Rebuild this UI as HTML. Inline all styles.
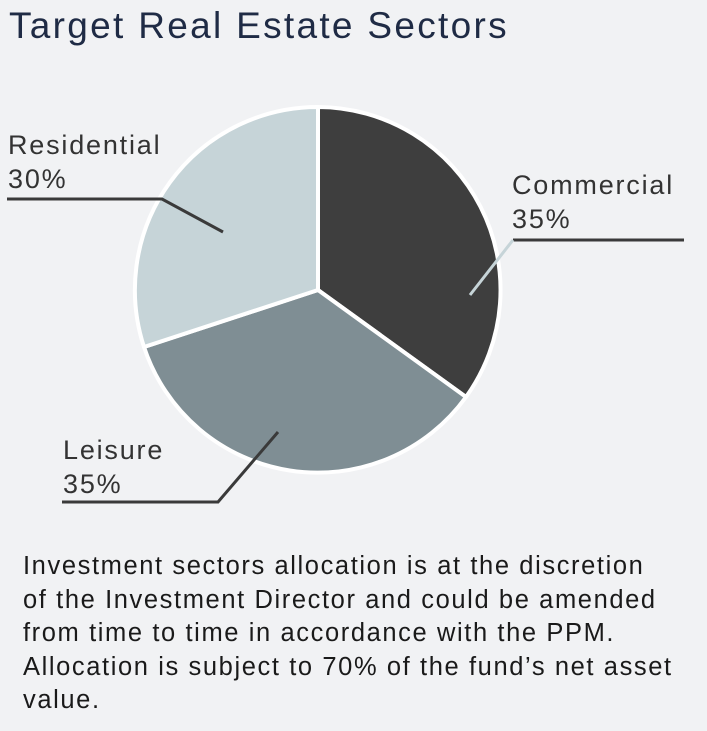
<!DOCTYPE html><html><head><style>
body{margin:0;width:707px;height:731px;background:#f1f2f4;font-family:"Liberation Sans",sans-serif;overflow:hidden;position:relative}
.t{position:absolute;left:9px;top:5px;font-size:37px;letter-spacing:2.3px;color:#1f2b45;white-space:nowrap}
.l{position:absolute;font-size:27px;letter-spacing:1.8px;color:#333;line-height:34px;white-space:nowrap}
.p{position:absolute;left:23px;top:550px;font-size:25.5px;letter-spacing:1.6px;line-height:33.5px;color:#1a1a1a;white-space:nowrap}
</style></head><body>
<div class="t">Target Real Estate Sectors</div>
<svg width="707" height="731" style="position:absolute;left:0;top:0">
<g stroke="#fff" stroke-width="4" stroke-linejoin="round">
<path d="M318,290 L318,107 A183,183 0 0 1 466,397 Z" fill="#3e3e3e"/>
<path d="M318,290 L466,397 A183,183 0 0 1 144,347 Z" fill="#7f8e94"/>
<path d="M318,290 L144,347 A183,183 0 0 1 318,107 Z" fill="#c6d4d8"/>
</g>
<g fill="none" stroke-width="3">
<polyline points="7,199 162,199 223,232" stroke="#3a3a3a"/>
<polyline points="62,502 218,502 278,432" stroke="#3a3a3a"/>
<polyline points="684,240 513,240" stroke="#3a3a3a"/>
<polyline points="513,240 470,295" stroke="#c6d4d8"/>
</g>
</svg>
<div class="l" style="left:8px;top:128px">Residential<br>30%</div>
<div class="l" style="left:512px;top:168px">Commercial<br>35%</div>
<div class="l" style="left:63px;top:433px">Leisure<br>35%</div>
<div class="p">Investment sectors allocation is at the discretion<br>of the Investment Director and could be amended<br>from time to time in accordance with the PPM.<br>Allocation is subject to 70% of the fund’s net asset<br>value.</div>
</body></html>
